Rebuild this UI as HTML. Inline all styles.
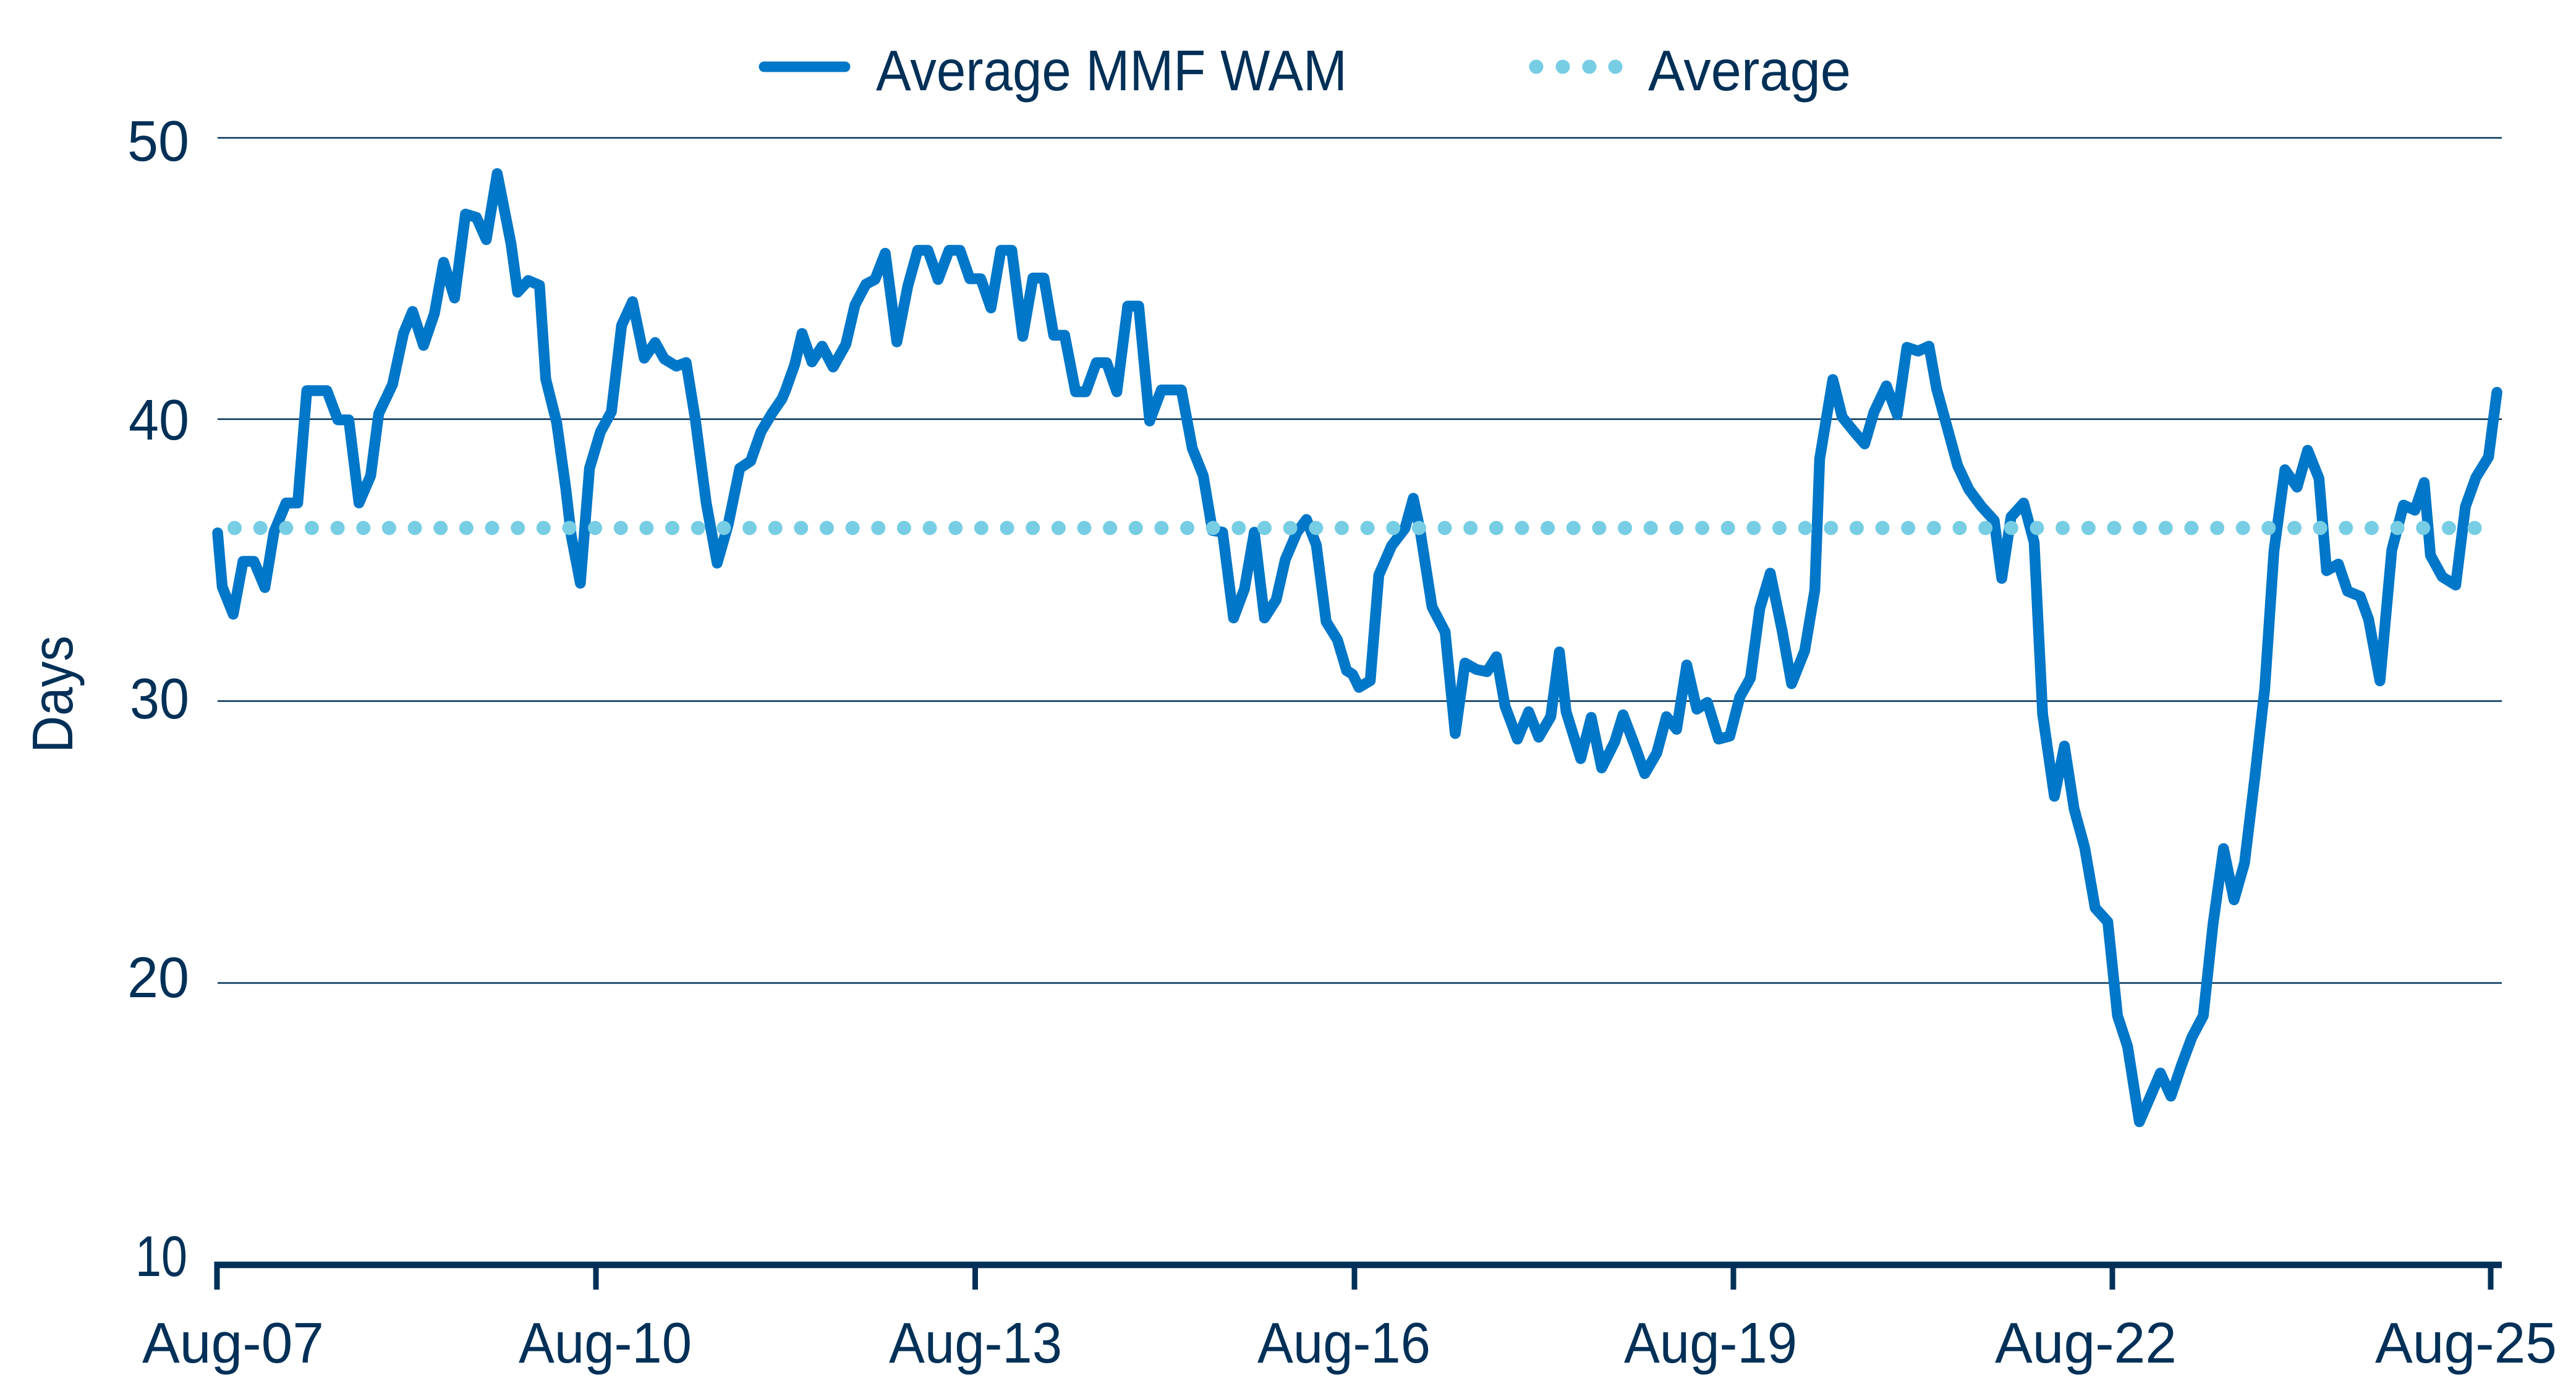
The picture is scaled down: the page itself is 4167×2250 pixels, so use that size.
<!DOCTYPE html>
<html>
<head>
<meta charset="utf-8">
<style>
html,body{margin:0;padding:0;background:#ffffff;}
svg{display:block;}
text{font-family:"Liberation Sans",sans-serif;fill:#003057;}
</style>
</head>
<body>
<svg width="4167" height="2250" viewBox="0 0 4167 2250" xmlns="http://www.w3.org/2000/svg">
<rect x="0" y="0" width="4167" height="2250" fill="#ffffff"/>

<!-- gridlines -->
<g stroke="#003057" stroke-width="2.5">
<line x1="352" y1="223" x2="4047" y2="223"/>
<line x1="352" y1="678" x2="4047" y2="678"/>
<line x1="352" y1="1134" x2="4047" y2="1134"/>
<line x1="352" y1="1590" x2="4047" y2="1590"/>
</g>

<!-- series -->
<polyline fill="none" stroke="#0077C8" stroke-width="17.5" stroke-linejoin="round" stroke-linecap="round" points="
352,862 359.5,949.3 377.2,993.5 393.1,908 410.8,908 428.5,950.4 443.2,860.8 462.7,813.6 481.6,813.6 496.3,631.9 528.8,631.9 546.5,679.1 564.2,679.1 580.7,813.6 599.6,769.3 612.6,669 635,621.8 652.7,539.2 667.4,503.8 685.1,558.7 702.8,506.8 717.6,424.2 735.3,482 753,346.3 770.7,351.6 786.6,387.6 804.3,280.8 826.7,394.7 837.3,472.6 854.5,453.7 872.7,461.4 882.8,613 900.5,683.8 915.2,790 924.1,866.7 938.8,943.4 953.6,757.5 971.3,698.5 989,666.1 1005.5,526.3 1023.2,487.9 1042.1,579.4 1059.8,554 1074.5,580.5 1094,592.3 1109.9,586.4 1124.7,677.9 1142.4,813.6 1160.1,910.9 1177.8,849 1196.6,757.5 1214.3,745.7 1230.9,698.5 1248.5,669
1265,645 1270.9,630.8 1285.6,589.5 1297.4,539.4 1313.4,585.4 1329.9,560 1347.6,593.7 1368.2,557.1 1383,493.4 1400.7,459.7 1415.4,452.1 1432,409.6 1450.8,553 1468.5,462.7 1484.5,404.9 1501,404.9 1517.5,452.1 1535.2,404.9 1552.9,404.9 1568.8,450.9 1586.5,450.9 1603,498.1 1619,404.9 1636.7,404.9 1654.4,544.1 1670.9,449.7 1688.6,449.7 1704.5,542.3 1722.2,542.3 1739.9,633.8 1756.4,633.8 1773.5,586.6 1790.1,586.6 1806.6,633.8 1824.3,495.1 1842,495.1 1859.7,681 1878.6,630.8 1911,630.8 1928.7,725.2 1946.4,769.5 1961.2,858 1977.7,860.9 1995.4,999.6 2013.1,952.4 2029,860.9 2045.5,999.6 2064.4,970 2079.1,905.2 2098,860.9 2113.4,840.3 2129.3,881.6 2145.2,1005.5 2163.5,1035
2178.3,1084.7 2188,1090.7 2198.3,1111.9 2216.5,1101 2230.4,930.2 2251,882.9 2272.8,854.4 2286.2,806 2297.1,857.5 2316.5,981.7 2337.7,1022.3 2354,1186.5 2369.8,1072.5 2388,1082.8 2405.5,1086.5 2420.7,1062.3 2434.6,1142.2 2454.6,1195.5 2472.8,1151.3 2489.1,1192.5 2508.5,1159.2 2522.5,1054.4 2533.4,1151.3 2557,1227.1 2574,1160.4 2590.9,1242.2 2612.1,1199.8 2625.5,1156.2 2646.7,1211.9 2660.6,1251.3 2680,1218 2695.7,1159.2 2712.1,1179.8 2728.5,1075.6 2744.8,1147.1 2761.8,1136.2 2780,1195.5 2798.1,1190.7 2814.5,1127.1 2831.5,1096.8 2846.6,984.7 2863.6,927.1 2883,1021.1 2898.1,1105.9 2919.3,1052.6 2935.7,954.4 2943.5,742.4 2964.8,613.9 2979.9,674.5 2998.1,696.9 3016.3,718.1 3031.4,666.6 3051.4,624.2 3069,670.9 3084.7,561.8 3102.9,567.9
3120.4,560 3132.7,628.8 3146.3,678.5 3166.7,753.2 3185.1,792.1 3205.5,819.5 3225.9,841.9 3238.1,935.6 3253.1,836.1 3273.5,813.7 3290.5,877.5 3304.2,1155.3 3323.2,1288 3339.5,1206.7 3355.2,1308.7 3372.2,1370.9 3389.2,1468.7 3409.6,1491.1 3425.3,1642.9 3441.6,1692.6 3460.7,1814.5 3477.7,1775.5 3494.7,1735.7 3511.7,1773.1 3528.7,1723.3 3545.7,1677.7 3564.1,1642.9 3579.8,1495.3 3596.8,1372.6 3613.8,1455.5 3630.8,1395.8 3647.8,1254.8 3663.5,1113.9 3678.4,891.6 3696.1,759.8 3715.8,788 3732.9,728.3 3751.2,773.9 3763.5,923.1 3782.6,912.4 3797.5,956.3 3817.9,964.6 3831.5,1001.9 3849.9,1101.4 3869,890 3888,817 3906.4,825.3 3921.4,780.5 3931.6,898.3 3950.7,933.1 3972.4,946.4 3988.1,819.5 4005.1,772.2 4025.5,739.1 4039.1,634.6"/>

<!-- average dotted line -->
<line x1="379.5" y1="854" x2="4004" y2="854" stroke="#77CDE4" stroke-width="23" stroke-linecap="round" stroke-dasharray="0 41.65"/>

<!-- x axis -->
<line x1="347" y1="2046" x2="4047" y2="2046" stroke="#003057" stroke-width="10.5"/>
<g stroke="#003057" stroke-width="9">
<line x1="351" y1="2041" x2="351" y2="2086"/>
<line x1="964" y1="2041" x2="964" y2="2086"/>
<line x1="1577.5" y1="2041" x2="1577.5" y2="2086"/>
<line x1="2191" y1="2041" x2="2191" y2="2086"/>
<line x1="2804" y1="2041" x2="2804" y2="2086"/>
<line x1="3417" y1="2041" x2="3417" y2="2086"/>
<line x1="4029" y1="2041" x2="4029" y2="2086"/>
</g>

<!-- y tick labels -->
<g font-size="93" text-anchor="end">
<text x="306" y="260" textLength="100" lengthAdjust="spacingAndGlyphs">50</text>
<text x="306" y="711" textLength="98" lengthAdjust="spacingAndGlyphs">40</text>
<text x="306" y="1162" textLength="96" lengthAdjust="spacingAndGlyphs">30</text>
<text x="306" y="1613" textLength="100" lengthAdjust="spacingAndGlyphs">20</text>
<text x="303" y="2064" textLength="84" lengthAdjust="spacingAndGlyphs">10</text>
</g>

<!-- x tick labels -->
<g font-size="93" text-anchor="middle">
<text x="377" y="2204" textLength="294" lengthAdjust="spacingAndGlyphs">Aug-07</text>
<text x="979" y="2204" textLength="280" lengthAdjust="spacingAndGlyphs">Aug-10</text>
<text x="1578" y="2204" textLength="280" lengthAdjust="spacingAndGlyphs">Aug-13</text>
<text x="2174" y="2204" textLength="280" lengthAdjust="spacingAndGlyphs">Aug-16</text>
<text x="2767" y="2204" textLength="280" lengthAdjust="spacingAndGlyphs">Aug-19</text>
<text x="3374" y="2204" textLength="294" lengthAdjust="spacingAndGlyphs">Aug-22</text>
<text x="3989" y="2204" textLength="294" lengthAdjust="spacingAndGlyphs">Aug-25</text>
</g>

<!-- y axis title -->
<text font-size="93" text-anchor="middle" transform="translate(117,1123) rotate(-90)" textLength="190" lengthAdjust="spacingAndGlyphs">Days</text>

<!-- legend -->
<line x1="1236" y1="108" x2="1367" y2="108" stroke="#0077C8" stroke-width="17" stroke-linecap="round"/>
<text x="1417" y="146" font-size="93" textLength="762" lengthAdjust="spacingAndGlyphs">Average MMF WAM</text>
<g fill="#77CDE4">
<circle cx="2485" cy="108" r="11.5"/>
<circle cx="2528" cy="108" r="11.5"/>
<circle cx="2571" cy="108" r="11.5"/>
<circle cx="2613" cy="108" r="11.5"/>
</g>
<text x="2666" y="146" font-size="93" textLength="328" lengthAdjust="spacingAndGlyphs">Average</text>
</svg>
</body>
</html>
